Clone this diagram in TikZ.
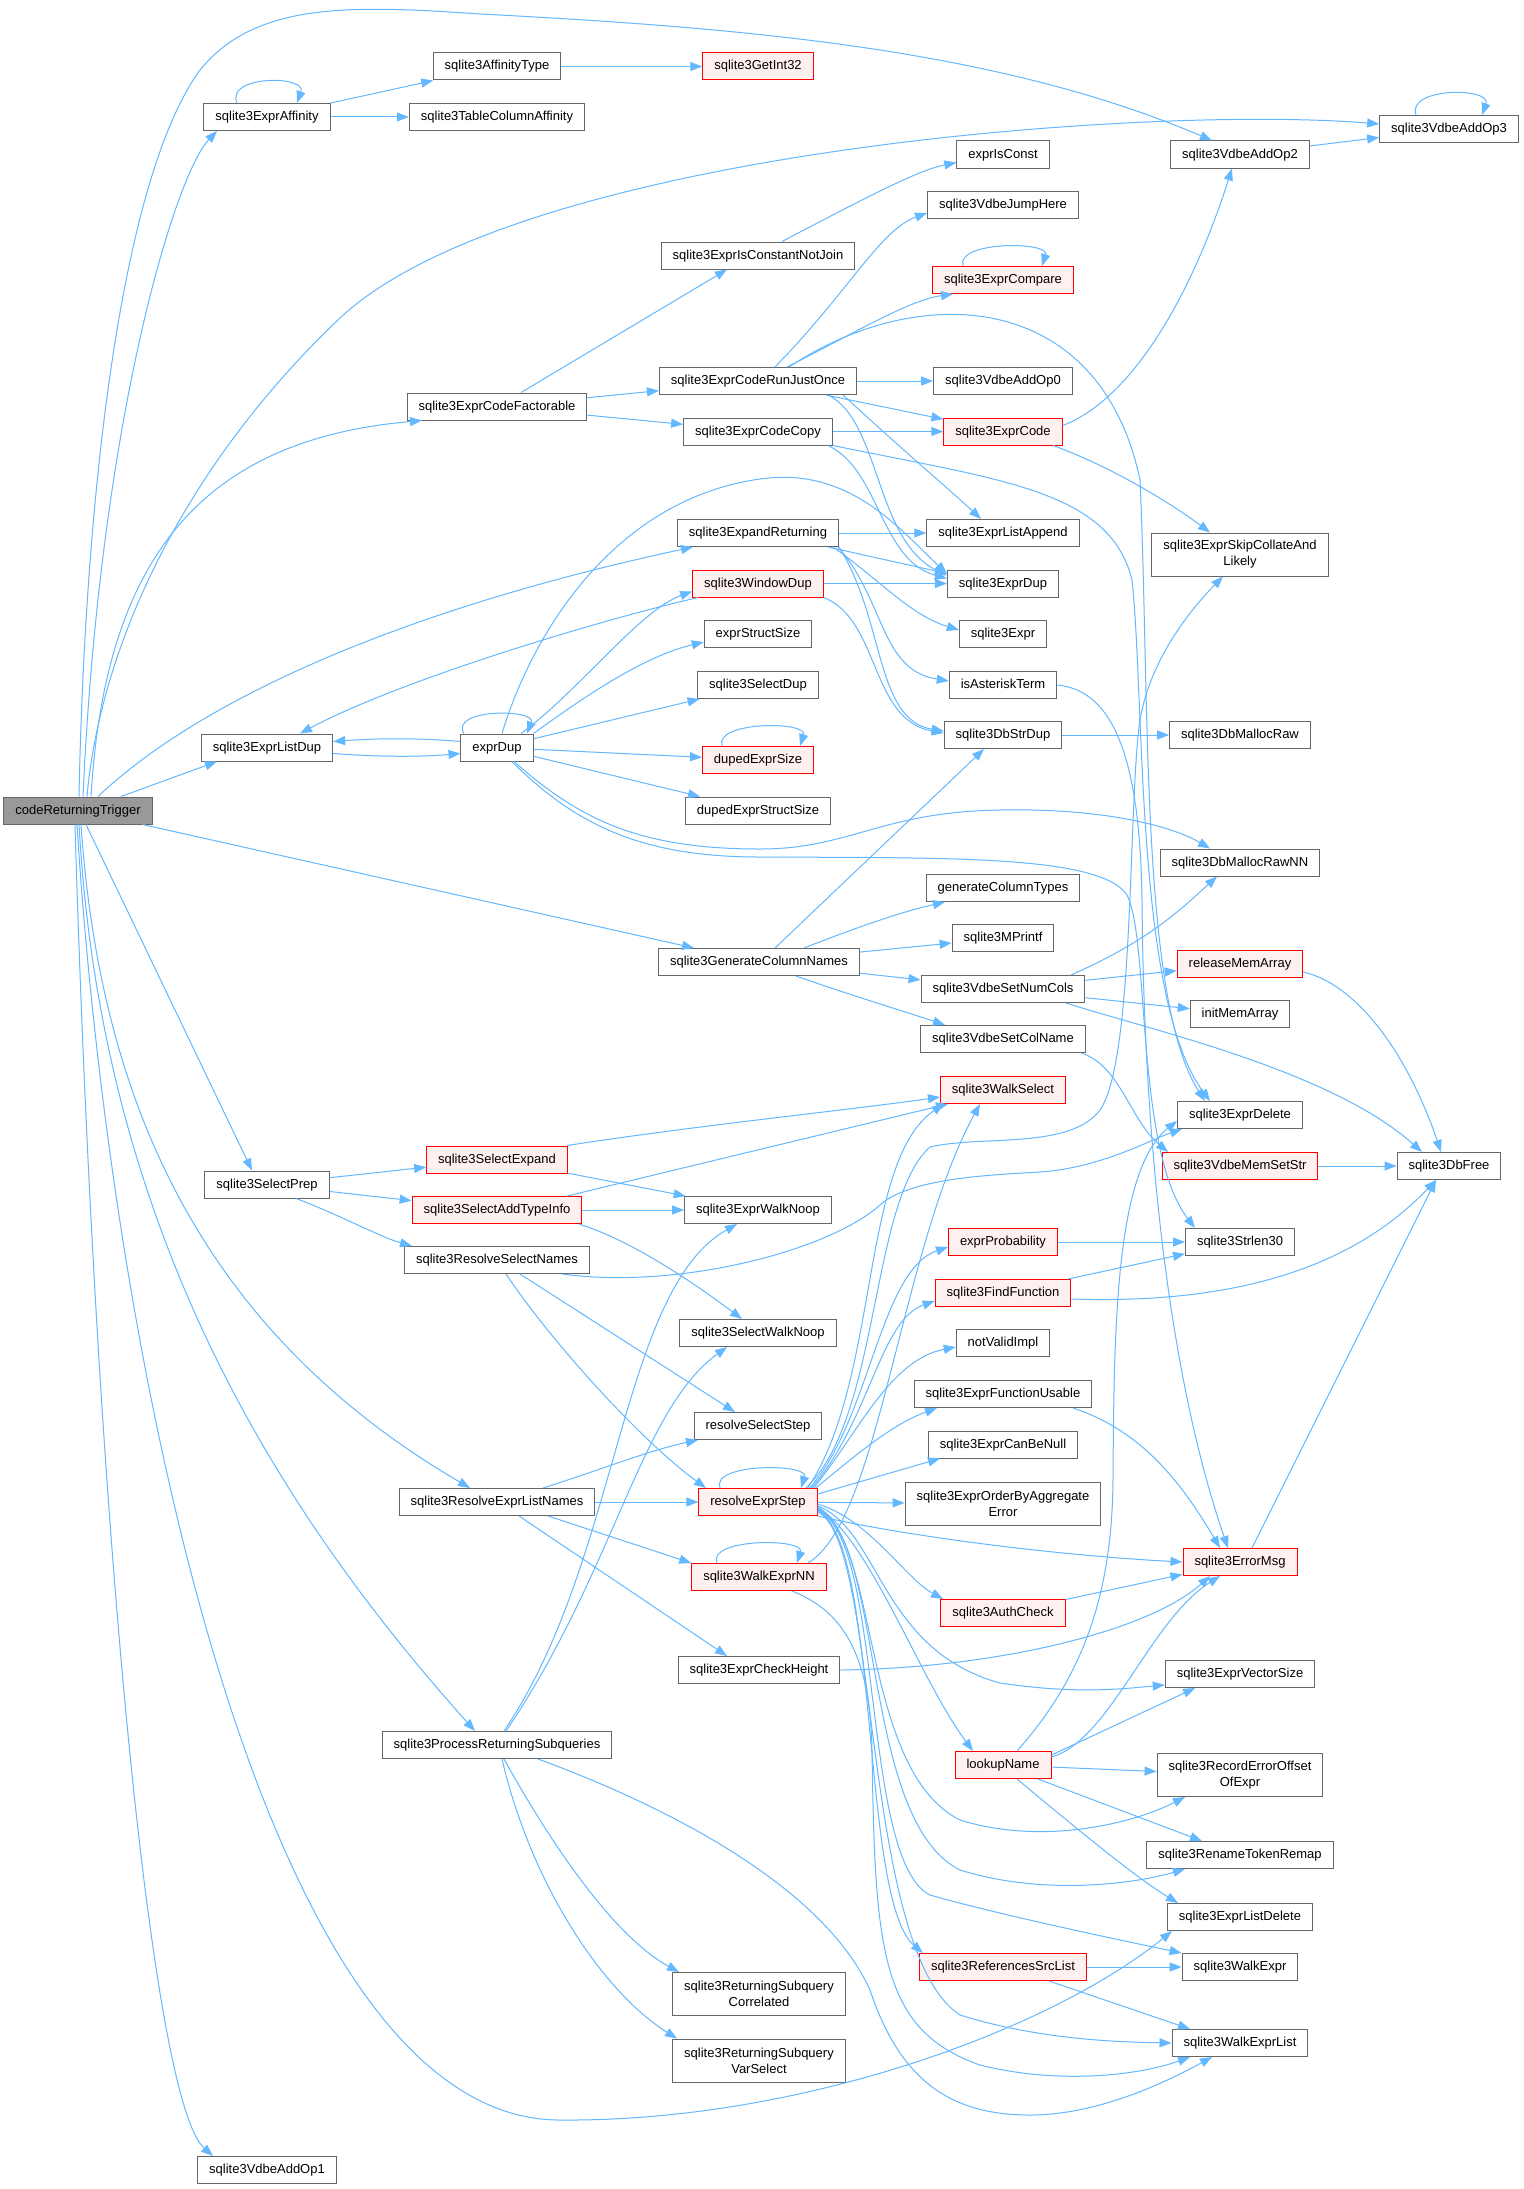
\documentclass[tikz,border=0pt]{standalone}
\usepackage{fontspec}
\setmainfont{Liberation Sans}
\usetikzlibrary{arrows.meta}

\definecolor{edgeblue}{HTML}{63B8FF}
\definecolor{boxgray}{HTML}{666666}
\definecolor{rootfill}{HTML}{999999}
\definecolor{redfill}{HTML}{FFF0F0}

\tikzset{
  fnbase/.style={draw=boxgray, fill=white, line width=1pt, inner xsep=11.5pt, inner ysep=0pt, minimum height=27pt, font=\fontsize{13}{16}\selectfont},
  fn/.style={fnbase, text height=9.5pt, text depth=2.5pt},
  fnred/.style={fn, draw=red, fill=redfill},
  fnroot/.style={fn, fill=rootfill},
  fntwo/.style={fnbase, align=center, minimum height=43pt},
  callarrow/.style={draw=edgeblue, line width=1pt, -{Triangle[length=12pt,width=9pt]}},
}

\begin{document}
\begin{tikzpicture}[x=1pt,y=-1pt]
\fill[white] (0,0) rectangle (1523,2189);
\useasboundingbox (0,0) rectangle (1523,2189);

\node[fnroot] (root) at (78,810.5) {codeReturningTrigger};
\node[fn] (affinity) at (267,117) {sqlite3ExprAffinity};
\node[fn] (listdup) at (267,747.5) {sqlite3ExprListDup};
\node[fn] (selprep) at (267,1184.5) {sqlite3SelectPrep};
\node[fn] (addop1) at (267,2170) {sqlite3VdbeAddOp1};

\node[fn] (afftype) at (497,66.5) {sqlite3AffinityType};
\node[fn] (tabcolaff) at (497,117) {sqlite3TableColumnAffinity};
\node[fn] (factorable) at (497,406.5) {sqlite3ExprCodeFactorable};
\node[fn] (exprdup) at (497,747.5) {exprDup};
\node[fnred] (selexpand) at (497,1159.5) {sqlite3SelectExpand};
\node[fnred] (addtype) at (497,1210) {sqlite3SelectAddTypeInfo};
\node[fn] (ressel) at (497,1260) {sqlite3ResolveSelectNames};
\node[fn] (reslist) at (497,1502) {sqlite3ResolveExprListNames};
\node[fn] (procret) at (497,1745) {sqlite3ProcessReturningSubqueries};

\node[fnred] (getint) at (758,66.5) {sqlite3GetInt32};
\node[fn] (isconstnj) at (758,255.5) {sqlite3ExprIsConstantNotJoin};
\node[fn] (runonce) at (758,381) {sqlite3ExprCodeRunJustOnce};
\node[fn] (codecopy) at (758,431.5) {sqlite3ExprCodeCopy};
\node[fn] (expandret) at (758,533) {sqlite3ExpandReturning};
\node[fnred] (windowdup) at (758,583.5) {sqlite3WindowDup};
\node[fn] (structsize) at (758,634) {exprStructSize};
\node[fn] (selectdup) at (758,685) {sqlite3SelectDup};
\node[fnred] (dupsize) at (758,760) {dupedExprSize};
\node[fn] (dupstruct) at (758,810.5) {dupedExprStructSize};
\node[fn] (gencols) at (759,962) {sqlite3GenerateColumnNames};
\node[fn] (walknoop) at (758,1210) {sqlite3ExprWalkNoop};
\node[fn] (selwalknoop) at (758,1333) {sqlite3SelectWalkNoop};
\node[fn] (resselstep) at (758,1426) {resolveSelectStep};
\node[fnred] (resexpr) at (758,1502) {resolveExprStep};
\node[fnred] (walknn) at (759,1577) {sqlite3WalkExprNN};
\node[fn] (checkh) at (759,1670) {sqlite3ExprCheckHeight};
\node[fntwo] (retcorr) at (759,1994) {sqlite3ReturningSubquery\\Correlated};
\node[fntwo] (retvar) at (759,2060.5) {sqlite3ReturningSubquery\\VarSelect};

\node[fn] (isconst) at (1003,154.5) {exprIsConst};
\node[fn] (jumphere) at (1003,205) {sqlite3VdbeJumpHere};
\node[fnred] (compare) at (1003,280) {sqlite3ExprCompare};
\node[fn] (addop0) at (1003,381) {sqlite3VdbeAddOp0};
\node[fnred] (exprcode) at (1003,431.5) {sqlite3ExprCode};
\node[fn] (listappend) at (1003,533) {sqlite3ExprListAppend};
\node[fn] (sexprdup) at (1003,583.5) {sqlite3ExprDup};
\node[fn] (sexpr) at (1003,634) {sqlite3Expr};
\node[fn] (asterisk) at (1003,685) {isAsteriskTerm};
\node[fn] (strdup) at (1003,735) {sqlite3DbStrDup};
\node[fn] (coltypes) at (1003,888) {generateColumnTypes};
\node[fn] (mprintf) at (1003,938) {sqlite3MPrintf};
\node[fn] (setnumcols) at (1003,989) {sqlite3VdbeSetNumCols};
\node[fn] (setcolname) at (1003,1039) {sqlite3VdbeSetColName};
\node[fnred] (walksel) at (1003,1090) {sqlite3WalkSelect};
\node[fnred] (exprprob) at (1003,1242) {exprProbability};
\node[fnred] (findfunc) at (1003,1293) {sqlite3FindFunction};
\node[fn] (notvalid) at (1003,1343) {notValidImpl};
\node[fn] (funcusable) at (1003,1394) {sqlite3ExprFunctionUsable};
\node[fn] (canbenull) at (1003,1444.5) {sqlite3ExprCanBeNull};
\node[fntwo] (orderagg) at (1003,1503.5) {sqlite3ExprOrderByAggregate\\Error};
\node[fnred] (authcheck) at (1003,1613) {sqlite3AuthCheck};
\node[fnred] (lookup) at (1003,1765) {lookupName};
\node[fnred] (refsrc) at (1003,1967) {sqlite3ReferencesSrcList};

\node[fn] (addop2) at (1240,154.5) {sqlite3VdbeAddOp2};
\node[fntwo] (skipcoll) at (1240,554.5) {sqlite3ExprSkipCollateAnd\\Likely};
\node[fn] (mallocraw) at (1240,735) {sqlite3DbMallocRaw};
\node[fn] (mallocnn) at (1240,862.5) {sqlite3DbMallocRawNN};
\node[fnred] (relmem) at (1240,964) {releaseMemArray};
\node[fn] (initmem) at (1240,1014) {initMemArray};
\node[fn] (exprdel) at (1240,1115) {sqlite3ExprDelete};
\node[fnred] (memsetstr) at (1240,1166) {sqlite3VdbeMemSetStr};
\node[fn] (strlen) at (1240,1242) {sqlite3Strlen30};
\node[fnred] (errmsg) at (1240,1562) {sqlite3ErrorMsg};
\node[fn] (vecsize) at (1240,1674) {sqlite3ExprVectorSize};
\node[fntwo] (recerr) at (1240,1775) {sqlite3RecordErrorOffset\\OfExpr};
\node[fn] (renametok) at (1240,1855) {sqlite3RenameTokenRemap};
\node[fn] (listdel) at (1240,1917) {sqlite3ExprListDelete};
\node[fn] (walkexpr) at (1240,1967) {sqlite3WalkExpr};
\node[fn] (walklist) at (1240,2043) {sqlite3WalkExprList};

\node[fn] (addop3) at (1449,129) {sqlite3VdbeAddOp3};
\node[fn] (dbfree) at (1449,1166) {sqlite3DbFree};

\begin{scope}[callarrow]
\draw ([xshift=1pt]root.north) .. controls (85,500) and (120,180) .. (200,70) .. controls (255,2) and (350,5) .. (480,14) .. controls (750,28) and (1000,50) .. ([xshift=-28pt]addop2.north);
\draw ([xshift=5pt]root.north) .. controls (100,420) and (175,175) .. ([xshift=-50pt]affinity.south);
\draw ([xshift=9pt]root.north) .. controls (100,650) and (180,470) .. (340,318) .. controls (520,150) and (1150,105) .. ([yshift=5pt]addop3.west);
\draw ([xshift=13pt]root.north) .. controls (105,560) and (200,440) .. ([xshift=-75pt]factorable.south);
\draw ([xshift=20pt]root.north) .. controls (200,700) and (400,610) .. ([xshift=-65pt]expandret.south);
\draw ([xshift=43pt]root.north) -- ([xshift=-50pt]listdup.south);
\draw ([xshift=-10pt]root.south east) -- ([xshift=-65pt]gencols.north);
\draw ([xshift=8pt]root.south) -- ([xshift=-15pt]selprep.north);
\draw ([xshift=3pt]root.south) .. controls (100,1100) and (200,1330) .. ([xshift=-27pt]reslist.north);
\draw ([xshift=1pt]root.south) .. controls (100,1200) and (250,1480) .. ([xshift=-22pt]procret.north);
\draw ([xshift=-1pt]root.south) .. controls (110,1350) and (260,2120) .. (560,2120) .. controls (800,2122) and (1050,2030) .. ([xshift=-68pt]listdel.south);
\draw ([xshift=-3pt]root.south) .. controls (95,1500) and (150,2100) .. ([xshift=-54pt]addop1.north);

\draw ([xshift=-30pt]affinity.north) .. controls +(-12,-28) and +(10,-28) .. ([xshift=30pt]affinity.north);
\draw (affinity) -- (afftype);
\draw (affinity) -- (tabcolaff);
\draw (afftype) -- (getint);
\draw (addop2) -- (addop3);
\draw ([xshift=-33pt]addop3.north) .. controls +(-10,-28) and +(10,-28) .. ([xshift=33pt]addop3.north);

\draw ([xshift=24pt]factorable.north) -- ([xshift=-31pt]isconstnj.south);
\draw (factorable) -- (runonce);
\draw (factorable) -- (codecopy);
\draw ([xshift=24pt]isconstnj.north) .. controls (880,190) and (920,170) .. ([yshift=-8pt]isconst.west);

\draw ([xshift=17pt]runonce.north) .. controls (850,290) and (880,230) .. ([yshift=-8pt]jumphere.west);
\draw ([xshift=29pt]runonce.north) .. controls (860,330) and (910,300) .. ([xshift=-50pt]compare.south);
\draw ([xshift=-40pt]compare.north) .. controls +(-8,-25) and +(8,-25) .. ([xshift=39pt]compare.north);
\draw ([xshift=31pt]runonce.north) .. controls (920,280) and (1100,290) .. (1140,480) .. controls (1150,700) and (1140,1000) .. ([xshift=-35pt]exprdel.north);
\draw (runonce) -- (addop0);
\draw (runonce) -- (exprcode);
\draw ([xshift=85pt]runonce.south) .. controls (906,453) and (950,490) .. ([xshift=-22pt]listappend.north);
\draw ([xshift=70pt]runonce.south) .. controls (880,420) and (875,540) .. ([yshift=8pt]sexprdup.west);

\draw (codecopy) -- (exprcode);
\draw ([xshift=70pt]codecopy.south) .. controls (880,470) and (880,560) .. ([yshift=5pt]sexprdup.west);
\draw (codecopy.south east) .. controls (1000,480) and (1110,490) .. (1132,580) .. controls (1145,700) and (1135,1000) .. ([xshift=-30pt]exprdel.north);
\draw ([yshift=6pt]exprcode.east) .. controls (1130,400) and (1190,300) .. ([xshift=-8pt]addop2.south);
\draw ([xshift=50pt]exprcode.south) .. controls (1120,470) and (1180,510) .. ([xshift=-30pt]skipcoll.north);

\draw (expandret) -- (listappend);
\draw ([xshift=70pt]expandret.south) -- ([yshift=10pt]sexprdup.west);
\draw ([xshift=75pt]expandret.south) .. controls (880,580) and (910,615) .. ([yshift=4pt]sexpr.west);
\draw ([xshift=80pt]expandret.south) .. controls (885,600) and (880,670) .. ([yshift=4pt]asterisk.west);
\draw ([xshift=81pt]expandret.south) .. controls (885,620) and (875,720) .. ([yshift=4pt]strdup.west);

\draw (windowdup) -- (sexprdup);
\draw (windowdup.south east) .. controls (880,620) and (870,720) .. ([yshift=2pt]strdup.west);
\draw ([xshift=-60pt]windowdup.south) .. controls (600,620) and (400,680) .. ([xshift=33pt]listdup.north);
\draw (asterisk.east) .. controls (1110,690) and (1140,750) .. (1142,900) .. controls (1144,1150) and (1170,1380) .. ([xshift=-12pt]errmsg.north);
\draw (strdup) -- (mallocraw);

\draw ([xshift=-33pt]exprdup.north) .. controls +(-15,-25) and +(10,-25) .. ([xshift=30pt]exprdup.north);
\draw ([yshift=6pt]exprdup.west) .. controls (420,738) and (380,738) .. ([yshift=6pt]listdup.east);
\draw ([yshift=-6pt]listdup.east) .. controls (380,757) and (420,757) .. ([yshift=-6pt]exprdup.west);
\draw ([xshift=24pt]exprdup.north) .. controls (580,690) and (640,610) .. ([yshift=-8pt]windowdup.west);
\draw (exprdup.north east) .. controls (600,685) and (650,655) .. ([yshift=-8pt]structsize.west);
\draw (exprdup) -- (selectdup);
\draw ([xshift=5pt]exprdup.north) .. controls (530,640) and (610,500) .. (760,479) .. controls (850,466) and (900,530) .. ([yshift=10pt]sexprdup.west);
\draw (exprdup) -- (dupsize);
\draw ([xshift=-36pt]dupsize.north) .. controls +(-8,-25) and +(8,-25) .. ([xshift=42pt]dupsize.north);
\draw (exprdup) -- (dupstruct);
\draw ([xshift=17pt]exprdup.south) .. controls (580,820) and (640,849) .. (760,849) .. controls (850,849) and (880,812) .. (1000,810) .. controls (1100,808) and (1170,825) .. ([xshift=-30pt]mallocnn.north);
\draw ([xshift=15pt]exprdup.south) .. controls (580,830) and (650,857) .. (760,857) .. controls (950,858) and (1100,855) .. (1127,895) .. controls (1150,940) and (1135,1150) .. ([xshift=-45pt]strlen.north);

\draw ([xshift=45pt]gencols.north) .. controls (850,930) and (900,912) .. ([xshift=-58pt]coltypes.south);
\draw (gencols) -- (mprintf);
\draw (gencols) -- (setnumcols);
\draw ([xshift=37pt]gencols.south) .. controls (850,995) and (900,1010) .. ([xshift=-58pt]setcolname.north);
\draw ([xshift=16pt]gencols.north) -- ([xshift=-19pt]strdup.south);
\draw (setnumcols) -- (relmem);
\draw (setnumcols) -- (initmem);
\draw ([xshift=68pt]setnumcols.north) .. controls (1150,940) and (1180,910) .. ([xshift=-23pt]mallocnn.south);
\draw ([xshift=63pt]setnumcols.south) .. controls (1150,1030) and (1330,1070) .. ([xshift=-27pt]dbfree.north);
\draw ([yshift=-8pt]relmem.east) .. controls (1360,985) and (1410,1060) .. ([xshift=-8pt]dbfree.north);
\draw ([xshift=78pt]setcolname.south) .. controls (1120,1065) and (1130,1120) .. ([xshift=-72pt]memsetstr.north);
\draw (memsetstr) -- (dbfree);
\draw (findfunc) -- (strlen);
\draw ([yshift=-6pt]findfunc.east) .. controls (1250,1305) and (1360,1260) .. ([xshift=-13pt]dbfree.south);
\draw (exprprob) -- (strlen);
\draw ([xshift=12pt]errmsg.north) -- ([xshift=-13pt]dbfree.south);

\draw (selprep) -- (selexpand);
\draw (selprep) -- (addtype);
\draw ([xshift=29pt]selprep.south) .. controls (340,1215) and (380,1237) .. ([xshift=-85pt]ressel.north);
\draw ([xshift=70pt]selexpand.north) .. controls (700,1125) and (850,1110) .. ([yshift=-7pt]walksel.west);
\draw (selexpand) -- (walknoop);
\draw (addtype) -- (walknoop);
\draw ([xshift=70pt]addtype.north) -- ([xshift=-55pt]walksel.south);
\draw ([xshift=82pt]addtype.south) .. controls (630,1240) and (690,1280) .. ([xshift=-16pt]selwalknoop.north);
\draw ([xshift=65pt]ressel.south) .. controls (680,1290) and (830,1250) .. (880,1205) .. controls (910,1178) and (990,1175) .. (1040,1172) .. controls (1100,1168) and (1150,1140) .. ([xshift=-58pt]exprdel.south);
\draw ([xshift=23pt]ressel.south) -- ([xshift=-23pt]resselstep.north);
\draw ([xshift=9pt]ressel.south) .. controls (550,1340) and (640,1440) .. ([xshift=-52pt]resexpr.north);

\draw ([xshift=7pt]procret.north) .. controls (620,1560) and (620,1290) .. ([xshift=-21pt]walknoop.south);
\draw ([xshift=9pt]procret.north) .. controls (615,1570) and (640,1410) .. ([xshift=-31pt]selwalknoop.south);
\draw ([xshift=7pt]procret.south) .. controls (560,1860) and (620,1940) .. ([xshift=-80pt]retcorr.north);
\draw ([xshift=5pt]procret.south) .. controls (530,1880) and (600,1990) .. ([xshift=-82pt]retvar.north);
\draw ([xshift=41pt]procret.south) .. controls (650,1800) and (820,1880) .. (870,1990) .. controls (900,2080) and (950,2115) .. (1030,2115) .. controls (1100,2115) and (1170,2080) .. ([xshift=-28pt]walklist.south);

\draw ([xshift=46pt]reslist.north) .. controls (600,1470) and (650,1450) .. ([xshift=-60pt]resselstep.south);
\draw (reslist) -- (resexpr);
\draw ([xshift=51pt]reslist.south) -- (walknn.north west);
\draw ([xshift=22pt]reslist.south) -- ([xshift=-32pt]checkh.north);

\draw ([xshift=-42pt]walknn.north) .. controls +(-10,-25) and +(8,-25) .. ([xshift=38pt]walknn.north);
\draw ([xshift=49pt]walknn.north) .. controls (880,1520) and (900,1250) .. ([xshift=-23pt]walksel.south);
\draw ([xshift=33pt]walknn.south) .. controls (840,1610) and (870,1650) .. (872,1750) .. controls (875,1950) and (880,2030) .. (980,2065) .. controls (1060,2085) and (1140,2075) .. ([xshift=-50pt]walklist.south);
\draw (checkh.east) .. controls (1000,1668) and (1150,1630) .. ([xshift=-30pt]errmsg.south);

\draw ([xshift=-38pt]resexpr.north) .. controls +(-10,-25) and +(8,-25) .. ([xshift=43pt]resexpr.north);
\draw (resexpr) -- (orderagg);
\draw ([yshift=8pt]resexpr.east) -- ([xshift=-63pt]canbenull.south);
\draw ([xshift=-2pt]resexpr.north east) .. controls (850,1460) and (890,1425) .. ([xshift=-66pt]funcusable.south);
\draw ([xshift=-4pt]resexpr.north east) .. controls (860,1430) and (890,1360) .. ([yshift=-4pt]notvalid.west);
\draw ([xshift=-6pt]resexpr.north east) .. controls (870,1420) and (880,1320) .. ([yshift=-8pt]findfunc.west);
\draw ([xshift=-8pt]resexpr.north east) .. controls (870,1420) and (880,1270) .. ([yshift=-5pt]exprprob.west);
\draw ([xshift=-10pt]resexpr.north east) .. controls (880,1380) and (860,1160) .. ([xshift=4pt]walksel.south west);
\draw ([xshift=-12pt]resexpr.north east) .. controls (880,1420) and (870,1200) .. (930,1147) .. controls (980,1135) and (1070,1150) .. (1100,1110) .. controls (1135,1060) and (1128,800) .. (1140,720) .. controls (1150,660) and (1190,610) .. ([xshift=-17pt]skipcoll.south);
\draw (resexpr.south east) .. controls (900,1535) and (1050,1555) .. (errmsg.west);
\draw ([yshift=-2pt]resexpr.east) .. controls (870,1520) and (905,1578) .. ([xshift=-60pt]authcheck.north);
\draw ([yshift=-4pt]resexpr.east) .. controls (880,1530) and (880,1650) .. (1000,1683) .. controls (1080,1695) and (1130,1688) .. ([yshift=-11pt]vecsize.west);
\draw ([yshift=-5pt]resexpr.east) .. controls (870,1540) and (920,1680) .. ([xshift=-30pt]lookup.north);
\draw ([yshift=-6pt]resexpr.east) .. controls (880,1540) and (860,1770) .. (960,1820) .. controls (1040,1845) and (1130,1825) .. ([xshift=-55pt]recerr.south);
\draw ([yshift=-7pt]resexpr.east) .. controls (885,1540) and (860,1820) .. (960,1870) .. controls (1040,1895) and (1130,1885) .. ([xshift=-55pt]renametok.south);
\draw ([yshift=-8pt]resexpr.east) .. controls (885,1540) and (860,1860) .. (930,1895) .. controls (1000,1915) and (1120,1940) .. (walkexpr.north west);
\draw ([yshift=-9pt]resexpr.east) .. controls (880,1540) and (860,1900) .. ([xshift=-80pt]refsrc.north);
\draw ([yshift=-10pt]resexpr.east) .. controls (880,1540) and (860,1950) .. (960,2015) .. controls (1040,2040) and (1120,2042) .. (walklist.west);

\draw ([yshift=8pt]lookup.east) .. controls (1110,1740) and (1150,1620) .. ([xshift=-20pt]errmsg.south);
\draw ([yshift=10pt]lookup.east) -- ([xshift=-45pt]vecsize.south);
\draw (lookup) -- (recerr);
\draw ([xshift=35pt]lookup.south) -- ([xshift=-38pt]renametok.north);
\draw ([xshift=14pt]lookup.south) .. controls (1090,1840) and (1140,1880) .. ([xshift=-62pt]listdel.north);
\draw ([xshift=14pt]lookup.north) .. controls (1080,1680) and (1112,1600) .. (1113,1480) .. controls (1114,1330) and (1115,1170) .. ([yshift=-6pt]exprdel.west);
\draw (authcheck) -- (errmsg);
\draw ([xshift=70pt]funcusable.south) .. controls (1140,1430) and (1180,1480) .. ([xshift=-20pt]errmsg.north);
\draw (refsrc) -- (walkexpr);
\draw ([xshift=46pt]refsrc.south) -- ([xshift=-50pt]walklist.north);
\end{scope}
\end{tikzpicture}
\end{document}
